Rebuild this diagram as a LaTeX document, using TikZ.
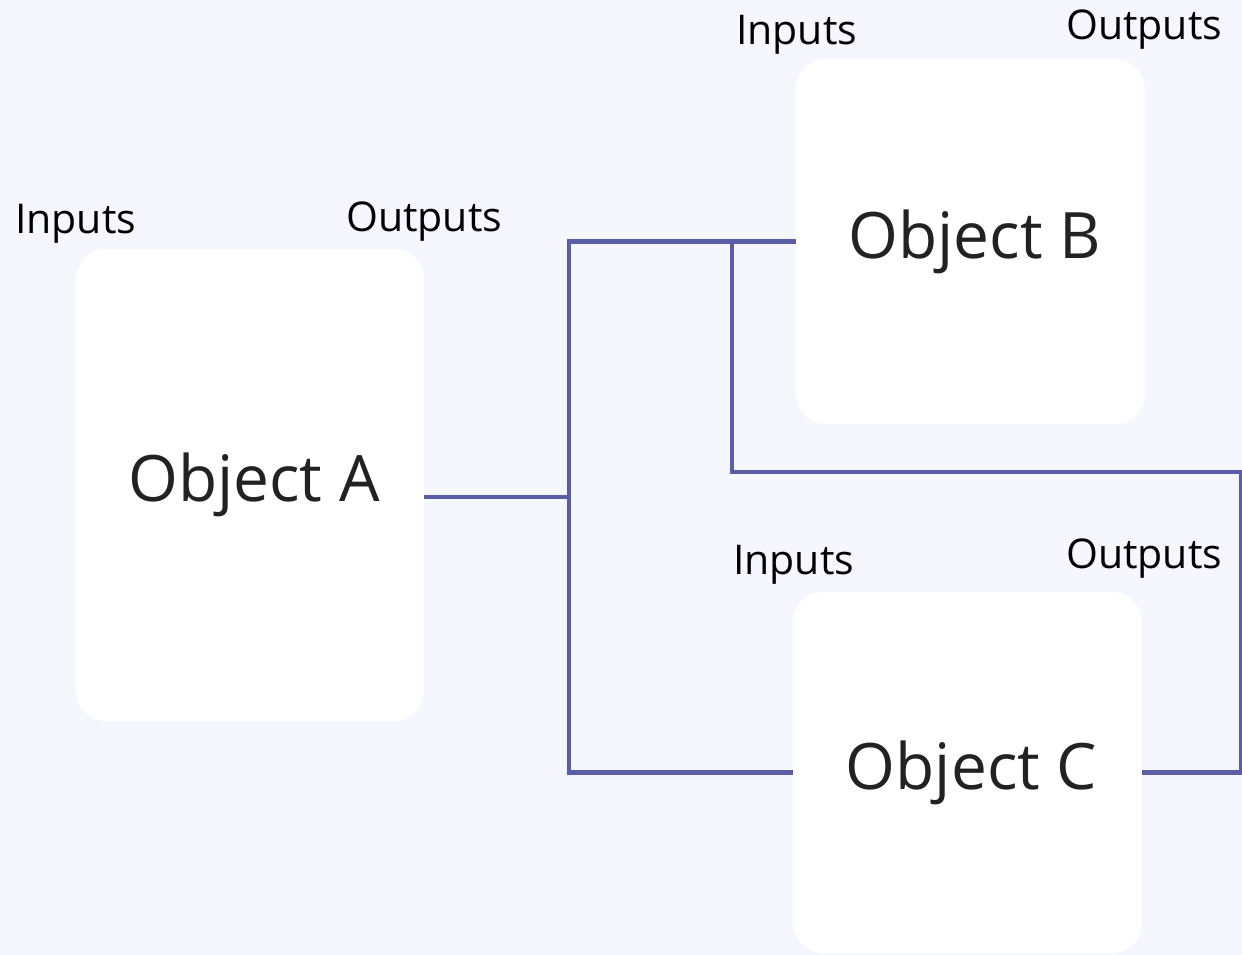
\documentclass[tikz,border=0pt]{standalone}
\usepackage{fontspec}
\setmainfont{Open Sans}
\definecolor{pagebg}{HTML}{F6F7FE}
\definecolor{wirecol}{HTML}{5B5EA6}
\definecolor{ink}{HTML}{222222}
\begin{document}
\begin{tikzpicture}[x=1pt,y=-1pt,
  objbox/.style={rectangle, rounded corners=30pt, fill=white, draw=none,
    inner sep=0pt, font=\fontsize{64}{70}\selectfont, text=ink},
  portlabel/.style={anchor=base west, inner sep=0pt,
    font=\fontsize{41}{46}\selectfont, text=black},
  wire/.style={draw=wirecol, line width=4.6pt, line join=miter}]
  % canvas
  \useasboundingbox (0,0) rectangle (1242,955);
  \fill[pagebg] (0,0) rectangle (1242,955);

  % objects (label text sits a little right of the box centre)
  \node[objbox, minimum width=348pt, minimum height=472pt] (A) at (250,485)
    {\hspace*{8pt}Object A};
  \node[objbox, minimum width=349pt, minimum height=365pt] (B) at (970.5,241.5)
    {\hspace*{8pt}Object B};
  \node[objbox, minimum width=349pt, minimum height=361pt] (C) at (967.5,772.5)
    {\hspace*{8pt}Object C};

  % port labels
  \node[portlabel] (Ain)  at (15,233)   {Inputs};
  \node[portlabel] (Aout) at (346,231)  {Outputs};
  \node[portlabel] (Bin)  at (736,45)   {Inputs};
  \node[portlabel] (Bout) at (1066,40)  {Outputs};
  \node[portlabel] (Cin)  at (733,574)  {Inputs};
  \node[portlabel] (Cout) at (1066,568) {Outputs};

  % routing columns
  \coordinate (bus) at (569,0);
  \coordinate (tap) at (732,0);
  \coordinate (far) at (1241,472);

  % connectors
  \draw[wire] ([yshift=-12pt]A.east) -- ([yshift=-12pt]A.east -| bus);
  \draw[wire] (B.west) -- (B.west -| bus) |- (C.west);
  \draw[wire] (B.west -| tap) |- (far) |- (C.east);
\end{tikzpicture}
\end{document}
